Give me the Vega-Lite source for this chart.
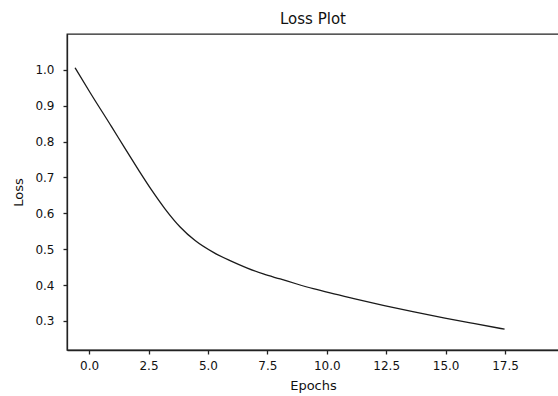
{
  "$schema": "https://vega.github.io/schema/vega-lite/v6.json",
  "autosize": {"type": "none"},
  "width": 492,
  "height": 316,
  "padding": {"left": 67, "top": 34, "right": 0, "bottom": 46},
  "background": "white",
  "title": {"text": "Loss Plot", "anchor": "middle", "offset": 7, "font": "DejaVu Sans", "fontSize": 15, "fontWeight": "normal", "color": "#111"},
  "config": {
    "view": {"stroke": "#222", "strokeWidth": 1.3},
    "axis": {"grid": false, "domainColor": "#222", "domainWidth": 1.3, "tickColor": "#222", "tickSize": 4, "tickWidth": 1.3, "labelFont": "DejaVu Sans", "labelFontSize": 12, "labelColor": "#111", "titleFont": "DejaVu Sans", "titleFontSize": 13, "titleFontWeight": "normal", "titleColor": "#111"}
  },
  "data": {"values": [
    {"epoch": -0.59, "loss": 1.006},
    {"epoch": 0.04, "loss": 0.937},
    {"epoch": 0.95, "loss": 0.841},
    {"epoch": 1.51, "loss": 0.781},
    {"epoch": 2.07, "loss": 0.722},
    {"epoch": 2.64, "loss": 0.664},
    {"epoch": 3.2, "loss": 0.612},
    {"epoch": 3.83, "loss": 0.562},
    {"epoch": 4.46, "loss": 0.524},
    {"epoch": 5.23, "loss": 0.491},
    {"epoch": 5.93, "loss": 0.468},
    {"epoch": 6.63, "loss": 0.448},
    {"epoch": 7.33, "loss": 0.431},
    {"epoch": 8.04, "loss": 0.417},
    {"epoch": 8.74, "loss": 0.403},
    {"epoch": 9.43, "loss": 0.39},
    {"epoch": 10.14, "loss": 0.378},
    {"epoch": 11.23, "loss": 0.361},
    {"epoch": 12.42, "loss": 0.343},
    {"epoch": 13.62, "loss": 0.326},
    {"epoch": 14.97, "loss": 0.308},
    {"epoch": 16.17, "loss": 0.293},
    {"epoch": 17.48, "loss": 0.277}
  ]},
  "mark": {"type": "line", "color": "#1a1a1a", "strokeWidth": 1.3, "interpolate": "monotone"},
  "encoding": {
    "x": {"field": "epoch", "type": "quantitative", "title": "Epochs",
          "scale": {"domain": [-0.93, 19.77], "nice": false, "zero": false},
          "axis": {"values": [0, 2.5, 5, 7.5, 10, 12.5, 15, 17.5], "format": ".1f", "labelPadding": 6, "titlePadding": 8}},
    "y": {"field": "loss", "type": "quantitative", "title": "Loss",
          "scale": {"domain": [0.219, 1.1], "nice": false, "zero": false},
          "axis": {"values": [0.3, 0.4, 0.5, 0.6, 0.7, 0.8, 0.9, 1.0], "format": ".1f", "labelPadding": 9, "titlePadding": 9}}
  }
}
